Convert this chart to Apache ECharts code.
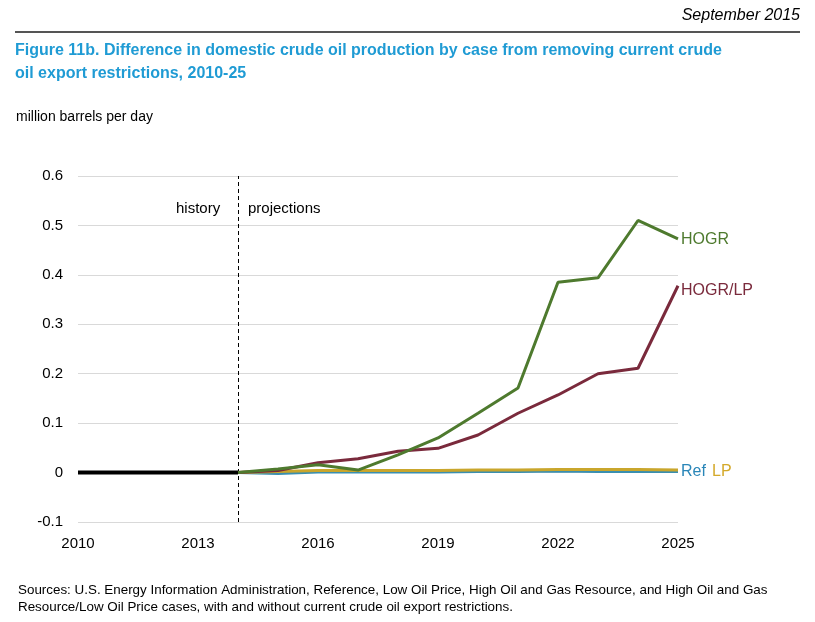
<!DOCTYPE html>
<html>
<head>
<meta charset="utf-8">
<script src="https://cdn.jsdelivr.net/npm/echarts@6/dist/echarts.min.js"></script>
<style>
html,body{margin:0;padding:0;background:#fff;}
#c{width:815px;height:622px;}
</style>
</head>
<body>
<div id="c"></div>
<script>
var years = [2010,2011,2012,2013,2014,2015,2016,2017,2018,2019,2020,2021,2022,2023,2024,2025];
var histVals = [0,0,0,0,0,null,null,null,null,null,null,null,null,null,null,null];
var hogr   = [null,null,null,null,0,0.007,0.016,0.005,0.036,0.070,0.120,0.171,0.385,0.394,0.510,0.473];
var hogrLp = [null,null,null,null,0,0.004,0.020,0.028,0.043,0.049,0.076,0.120,0.157,0.200,0.211,0.378];
var ref    = [null,null,null,null,0,-0.002,0.001,0.001,0.001,0.001,0.002,0.002,0.003,0.002,0.002,0.002];
var lp     = [null,null,null,null,0,0.002,0.004,0.004,0.004,0.004,0.005,0.005,0.006,0.006,0.006,0.005];
var xTicks = [2010,2013,2016,2019,2022,2025];
var yTicks = [-0.1,0,0.1,0.2,0.3,0.4,0.5,0.6];

function pairs(arr){ return years.map(function(y,i){ return [y, arr[i]]; }); }

var chart = echarts.init(document.getElementById('c'), null, {renderer:'canvas'});
var sans = 'Liberation Sans, Arial, sans-serif';
var axisFont = {fontFamily:sans, fontSize:15, color:'#000'};

chart.setOption({
  animation:false,
  backgroundColor:'#fff',
  grid:{left:78, right:137, top:176, bottom:100, containLabel:false},
  xAxis:{
    type:'value', min:xTicks[0], max:xTicks[xTicks.length-1], interval:3,
    axisLine:{show:false}, axisTick:{show:false}, splitLine:{show:false},
    axisLabel:Object.assign({margin:14, formatter:function(v){ return String(v); }}, axisFont)
  },
  yAxis:{
    type:'value', min:yTicks[0], max:yTicks[yTicks.length-1], interval:0.1,
    axisLine:{show:false}, axisTick:{show:false},
    splitLine:{show:true, lineStyle:{color:'#d9d9d9', width:1}},
    axisLabel:Object.assign({margin:15, formatter:function(v){ return (Math.round(v*10)/10).toString(); }}, axisFont)
  },
  graphic:[
    {type:'text', right:15, top:8, style:{text:'September 2015', font:'italic 16px '+sans, fill:'#000'}},
    {type:'rect', shape:{x:15, y:31, width:785, height:2}, style:{fill:'#555'}},
    {type:'text', left:15, top:39, style:{text:'Figure 11b. Difference in domestic crude oil production by case from removing current crude\noil export restrictions, 2010-25', font:'bold 16px '+sans, fill:'#1f9bd4', lineHeight:23}},
    {type:'text', left:16, top:110, style:{text:'million barrels per day', font:'14px '+sans, fill:'#000'}},
    {type:'text', left:176, top:201, style:{text:'history', font:'15px '+sans, fill:'#000'}},
    {type:'text', left:248, top:201, style:{text:'projections', font:'15px '+sans, fill:'#000'}},
    {type:'text', left:18, top:582, style:{text:'Sources: U.S. Energy Information Administration, Reference, Low Oil Price, High Oil and Gas Resource, and High Oil and Gas\nResource/Low Oil Price cases, with and without current crude oil export restrictions.', font:'13.4px '+sans, fill:'#000', lineHeight:17}}
  ],
  series:[
    {name:'History', type:'line', data:pairs(histVals), symbol:'none', lineStyle:{color:'#000', width:4}, z:5,
     markLine:{silent:true, symbol:'none', label:{show:false}, lineStyle:{color:'#000', type:[4,3], width:1},
       data:[{xAxis:2014}]}},
    {name:'Ref', type:'line', data:pairs(ref), symbol:'none', lineStyle:{color:'#3a8fb0', width:3}, z:3,
     endLabel:{show:true, formatter:'Ref', color:'#2a86b8', fontSize:16, fontFamily:sans, distance:3, offset:[0,0]}},
    {name:'LP', type:'line', data:pairs(lp), symbol:'none', lineStyle:{color:'#c9a62c', width:3}, z:4,
     endLabel:{show:true, formatter:'LP', color:'#d4a92a', fontSize:16, fontFamily:sans, distance:3, offset:[31,1]}},
    {name:'HOGR/LP', type:'line', data:pairs(hogrLp), symbol:'none', lineStyle:{color:'#7a2a3c', width:3}, z:6,
     endLabel:{show:true, formatter:'HOGR/LP', color:'#7a2a3c', fontSize:16, fontFamily:sans, distance:3, offset:[0,5]}},
    {name:'HOGR', type:'line', data:pairs(hogr), symbol:'none', lineStyle:{color:'#4e7a2e', width:3}, z:7,
     endLabel:{show:true, formatter:'HOGR', color:'#4e7a2e', fontSize:16, fontFamily:sans, distance:3, offset:[0,1]}}
  ]
});
</script>
</body>
</html>
